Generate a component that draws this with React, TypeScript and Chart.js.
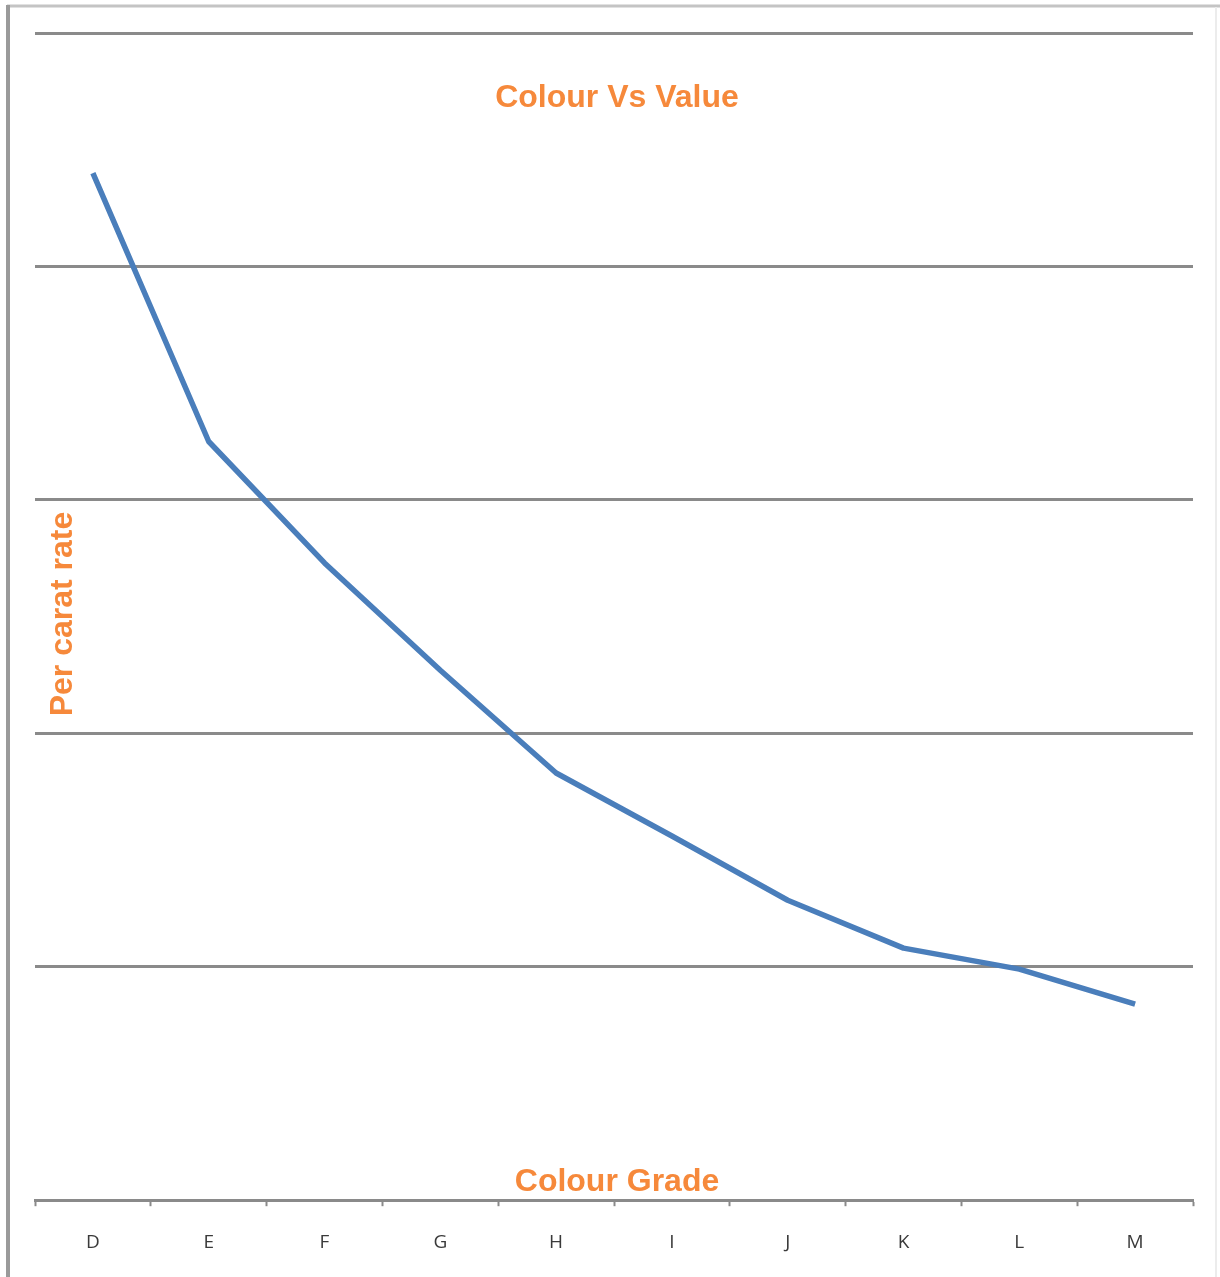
import React, { useEffect, useRef } from "react";
import { Chart, registerables } from "chart.js";

Chart.register(...registerables);

const categories = ["D", "E", "F", "G", "H", "I", "J", "K", "L", "M"];
const perCaratRate = [4.4, 3.25, 2.73, 2.27, 1.83, 1.56, 1.285, 1.08, 0.99, 0.84];
const yMin = 0;
const yMax = 5;
const yStep = 1;

const chartTitle = "Colour Vs Value";
const xTitle = "Colour Grade";
const yTitle = "Per carat rate";

const ORANGE = "#F6893B";
const GRID = "#8a8a8a";
const LINE = "#4A7EBB";

const overlayPlugin = {
  id: "overlay",
  beforeDraw(chart: any) {
    const ctx = chart.ctx;
    ctx.save();
    ctx.fillStyle = "#ffffff";
    ctx.fillRect(0, 0, chart.width, chart.height);
    ctx.strokeStyle = "#c4c4c4";
    ctx.lineWidth = 3;
    ctx.beginPath();
    ctx.moveTo(7, 6);
    ctx.lineTo(chart.width, 6);
    ctx.stroke();
    ctx.strokeStyle = "#9a9a9a";
    ctx.lineWidth = 4;
    ctx.beginPath();
    ctx.moveTo(8, 5);
    ctx.lineTo(8, chart.height);
    ctx.stroke();
    ctx.strokeStyle = "#ececec";
    ctx.lineWidth = 2;
    ctx.beginPath();
    ctx.moveTo(1216, 7);
    ctx.lineTo(1216, chart.height);
    ctx.stroke();
    ctx.restore();
  },
  afterDraw(chart: any) {
    const ctx = chart.ctx;
    const area = chart.chartArea;
    const cx = (area.left + area.right) / 2 + 3;
    ctx.save();
    ctx.fillStyle = ORANGE;
    ctx.font = "bold 32px 'Liberation Sans', Arial, sans-serif";
    ctx.textAlign = "center";
    ctx.textBaseline = "middle";
    ctx.fillText(chartTitle, cx, 98);
    ctx.fillText(xTitle, cx, 1182);
    ctx.translate(63, 614);
    ctx.rotate(-Math.PI / 2);
    ctx.fillText(yTitle, 0, 0);
    ctx.restore();
  },
};

export default function App() {
  const ref = useRef<HTMLCanvasElement | null>(null);
  useEffect(() => {
    document.body.style.margin = "0";
    const canvas = ref.current!;
    const chart = new Chart(canvas, {
      type: "line",
      data: {
        labels: categories,
        datasets: [
          {
            label: "Per carat rate",
            data: perCaratRate,
            borderColor: LINE,
            borderWidth: 5.5,
            pointRadius: 0,
            tension: 0,
            fill: false,
            borderJoinStyle: "round",
          },
        ],
      },
      options: {
        responsive: false,
        animation: false,
        devicePixelRatio: 1,
        layout: { padding: { left: 35, right: 27, top: 33, bottom: -2 } },
        plugins: {
          legend: { display: false },
          title: { display: false },
          tooltip: { enabled: false },
        },
        scales: {
          x: {
            type: "category",
            offset: true,
            grid: {
              offset: true,
              drawOnChartArea: false,
              drawTicks: true,
              tickLength: 6,
              tickWidth: 2,
              tickColor: GRID,
            },
            border: { display: true, color: GRID, width: 3 },
            ticks: {
              color: "#3a3a3a",
              font: { family: "'Open Sans', sans-serif", size: 19 },
              padding: 25,
              maxRotation: 0,
              autoSkip: false,
            },
          },
          y: {
            min: yMin,
            max: yMax,
            ticks: { display: false, stepSize: yStep },
            grid: { color: GRID, lineWidth: 3, drawTicks: false },
            border: { display: false },
          },
        },
      },
      plugins: [overlayPlugin],
    });
    return () => chart.destroy();
  }, []);
  return (
    <div style={{ width: 1220, height: 1277 }}>
      <canvas ref={ref} width={1220} height={1277} style={{ display: "block" }} />
    </div>
  );
}
